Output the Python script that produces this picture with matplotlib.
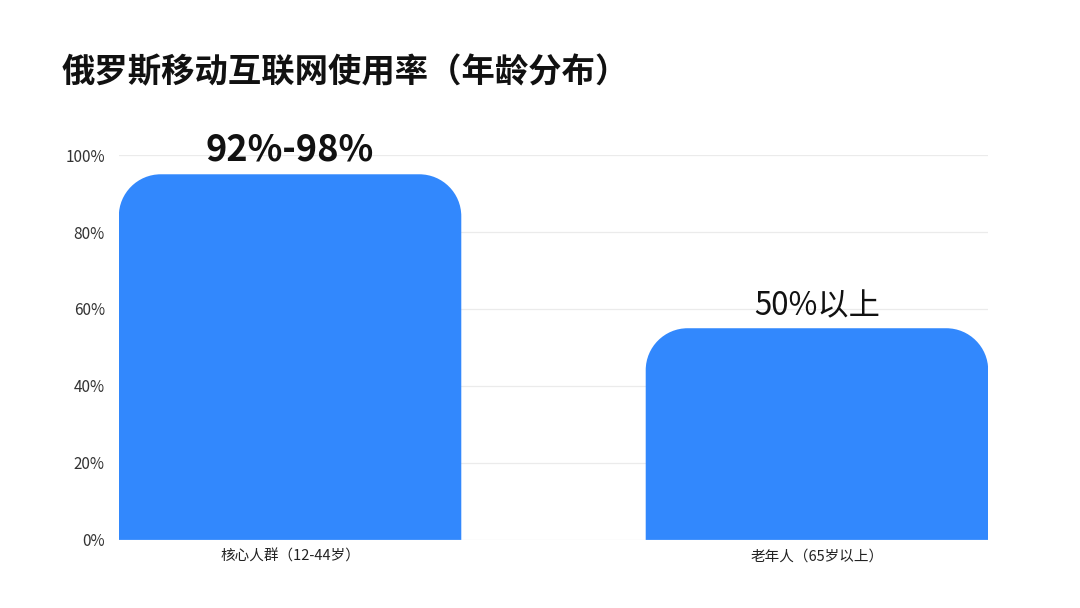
import numpy as np
import matplotlib
matplotlib.use("Agg")
from matplotlib import pyplot as plt
from matplotlib.path import Path
from matplotlib.patches import PathPatch

plt.rcParams['font.family'] = ['Noto Sans CJK SC', 'DejaVu Sans']

# Data
categories = ['核心人群（12-44岁）', '老年人（65岁以上）']
values = [95, 55]
value_labels = ['92%-98%', '50%以上']
label_weights = ['bold', 'normal']
label_sizes = [26, 22.5]
yticks = [0, 20, 40, 60, 80, 100]
ytick_labels = ['0%', '20%', '40%', '60%', '80%', '100%']

bar_color = '#3288fd'
bar_width = 0.65

fig = plt.figure(figsize=(10.8, 6.08), dpi=100)
ax = fig.add_axes([0.110, 0.112, 0.805, 0.633])
ax.set_xlim(-bar_width / 2, len(values) - 1 + bar_width / 2)
ax.set_ylim(0, 100)

# Corner radius in pixels, converted to data units per axis
fig.canvas.draw()
bbox = ax.get_window_extent()
px_per_x = bbox.width / (ax.get_xlim()[1] - ax.get_xlim()[0])
px_per_y = bbox.height / (ax.get_ylim()[1] - ax.get_ylim()[0])
radius_px = 42
rx = radius_px / px_per_x
ry = radius_px / px_per_y
k = 0.5523


def rounded_top_bar(x0, x1, h):
    verts = [
        (x0, 0), (x0, h - ry),
        (x0, h - ry + k * ry), (x0 + rx - k * rx, h), (x0 + rx, h),
        (x1 - rx, h),
        (x1 - rx + k * rx, h), (x1, h - ry + k * ry), (x1, h - ry),
        (x1, 0), (x0, 0),
    ]
    codes = [Path.MOVETO, Path.LINETO,
             Path.CURVE4, Path.CURVE4, Path.CURVE4,
             Path.LINETO,
             Path.CURVE4, Path.CURVE4, Path.CURVE4,
             Path.LINETO, Path.CLOSEPOLY]
    return Path(verts, codes)


for i, v in enumerate(values):
    p = rounded_top_bar(i - bar_width / 2, i + bar_width / 2, v)
    ax.add_patch(PathPatch(p, facecolor=bar_color, edgecolor='none', zorder=3))
    ax.annotate(value_labels[i], xy=(i, v), xytext=(0, 4), textcoords='offset points',
                ha='center', va='bottom', fontsize=label_sizes[i],
                fontweight=label_weights[i], color='#111111', zorder=4,
                annotation_clip=False)

ax.set_xticks(range(len(categories)))
ax.set_xticklabels(categories, fontsize=10.5, color='#222222')
ax.set_yticks(yticks)
ax.set_yticklabels(ytick_labels, fontsize=11, color='#333333')
ax.tick_params(axis='both', length=0)
ax.tick_params(axis='y', pad=10)
ax.tick_params(axis='x', pad=7)
ax.grid(axis='y', color='#ebebeb', linewidth=0.9, zorder=0)
for s in ax.spines.values():
    s.set_visible(False)

fig.text(62 / 1080, 1 - 73 / 608, '俄罗斯移动互联网使用率（年龄分布）', fontsize=24,
         fontweight='bold', ha='left', va='center', color='#111111')

fig.savefig('out.png', dpi=100, facecolor='white')
